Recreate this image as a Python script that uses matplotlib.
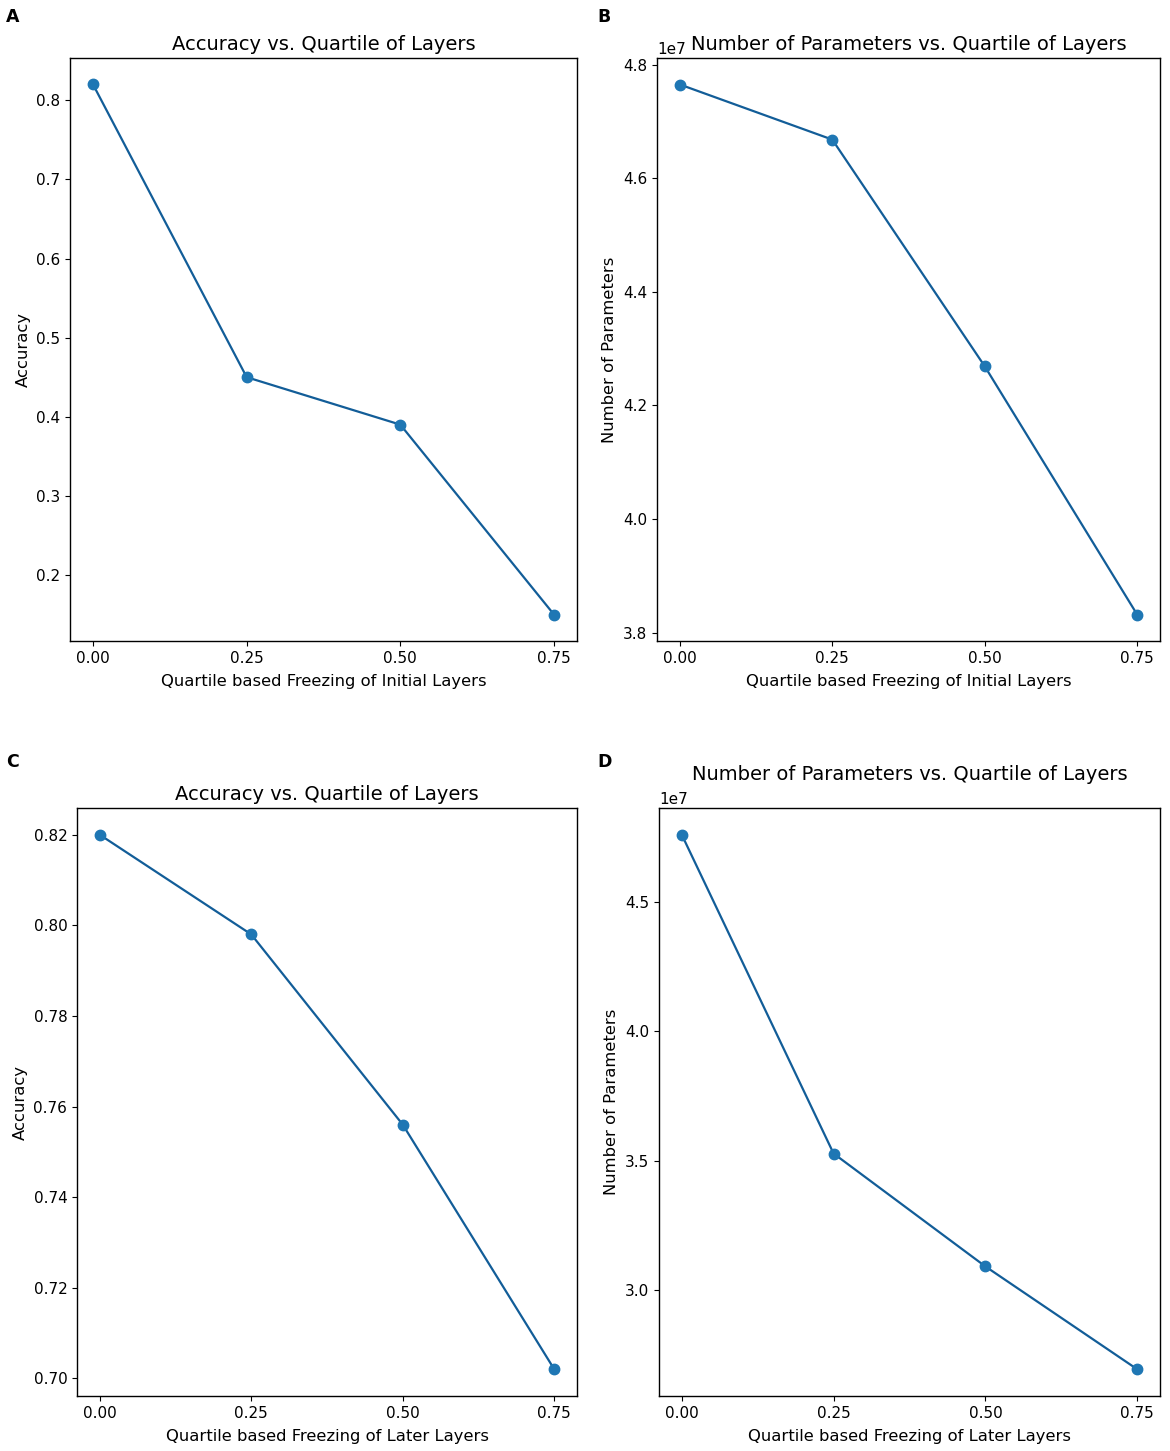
import matplotlib
matplotlib.use("Agg")
import matplotlib.pyplot as plt

# quartile of frozen layers
quartiles = [0.00, 0.25, 0.50, 0.75]

# freezing initial layers
acc_initial = [0.82, 0.45, 0.39, 0.15]
params_initial = [4.765e7, 4.668e7, 4.269e7, 3.832e7]

# freezing later layers
acc_later = [0.820, 0.798, 0.756, 0.702]
params_later = [4.761e7, 3.527e7, 3.090e7, 2.692e7]

tick_labels = ["0.00", "0.25", "0.50", "0.75"]

W, H = 1170, 1451
fig = plt.figure(figsize=(W / 100, H / 100), dpi=100)


def box(l, t, r, b):
    return [l / W, 1 - b / H, (r - l) / W, (b - t) / H]


def draw_panel(rect, y, title, xlabel, ylabel, letter, letter_xy, title_pad=6):
    ax = fig.add_axes(rect)
    ax.plot(quartiles, y, color='#125d98', lw=1.6, zorder=2)
    ax.plot(quartiles, y, 'o', color='#1f77b4', ms=7.5, zorder=3)
    ax.set_xticks(quartiles)
    ax.set_xticklabels(tick_labels)
    ax.tick_params(labelsize=11)
    ax.yaxis.get_offset_text().set_fontsize(11)
    ax.set_title(title, fontsize=14, pad=title_pad)
    ax.set_xlabel(xlabel, fontsize=11.8, labelpad=6)
    ax.set_ylabel(ylabel, fontsize=11.8)
    for s in ax.spines.values():
        s.set_linewidth(1.0)
    fig.text(letter_xy[0] / W, 1 - letter_xy[1] / H, letter, fontsize=12.5,
             fontweight='bold', va='center', ha='left')
    return ax


draw_panel(box(70, 58, 577, 641), acc_initial, "Accuracy vs. Quartile of Layers",
           "Quartile based Freezing of Initial Layers", "Accuracy", "A", (6, 17))
draw_panel(box(657, 58, 1160, 641), params_initial, "Number of Parameters vs. Quartile of Layers",
           "Quartile based Freezing of Initial Layers", "Number of Parameters", "B", (597, 17))
draw_panel(box(77, 808, 577, 1396), acc_later, "Accuracy vs. Quartile of Layers",
           "Quartile based Freezing of Later Layers", "Accuracy", "C", (6, 762))
draw_panel(box(659, 808, 1160, 1396), params_later, "Number of Parameters vs. Quartile of Layers",
           "Quartile based Freezing of Later Layers", "Number of Parameters", "D", (597, 762),
           title_pad=20)

fig.savefig("out.png", dpi=100)
